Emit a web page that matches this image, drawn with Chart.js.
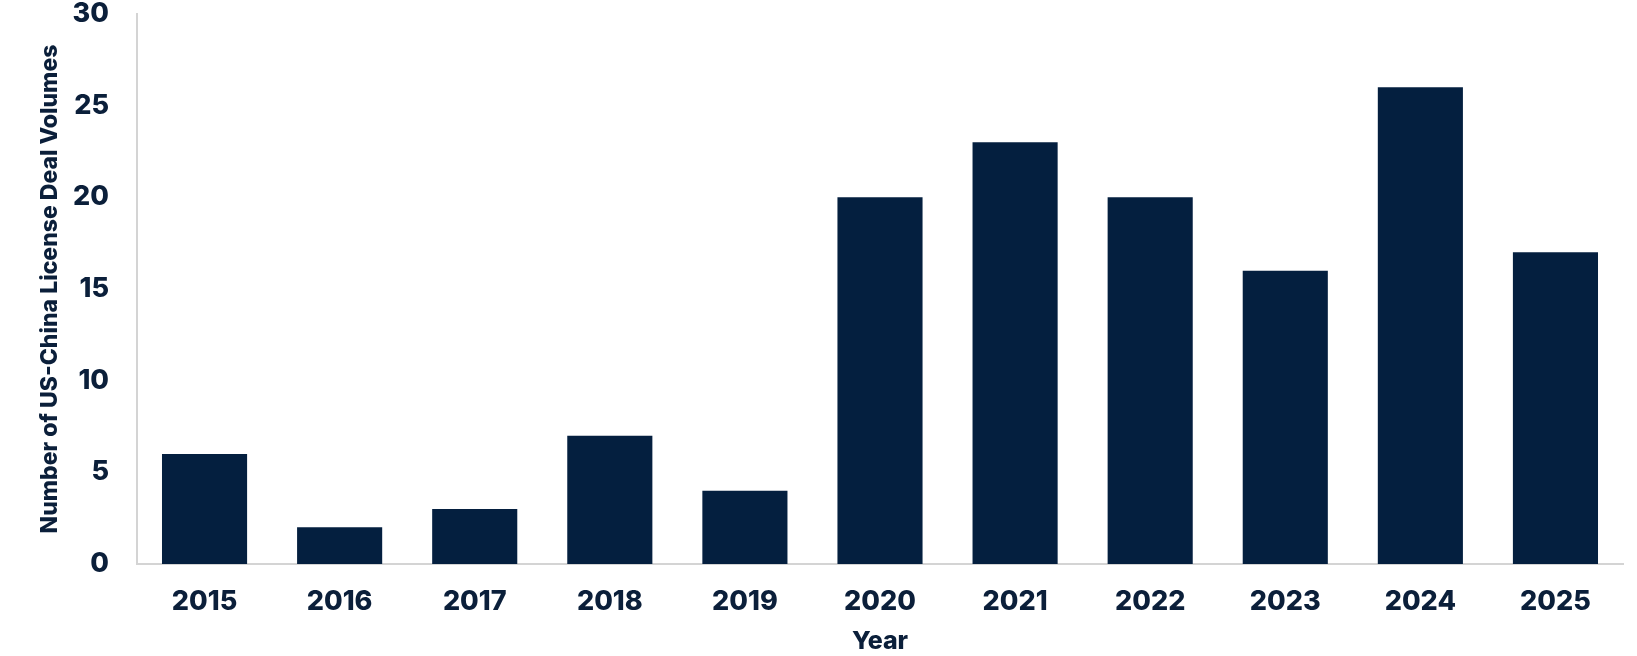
<!DOCTYPE html>
<html>
<head>
<meta charset="utf-8">
<script src="https://cdn.jsdelivr.net/npm/chart.js@4"></script>
<style>
  html, body { margin: 0; padding: 0; background: #fff; }
  #wrap { width: 1637px; height: 656px; }
</style>
</head>
<body>
<div id="wrap"><canvas id="barChart"></canvas></div>
<script>
const years = ['2015', '2016', '2017', '2018', '2019', '2020', '2021', '2022', '2023', '2024', '2025'];
const dealCounts = [6, 2, 3, 7, 4, 20, 23, 20, 16, 26, 17];
const yTicks = [0, 5, 10, 15, 20, 25, 30];

const navy = '#041f3f';
const textNavy = '#0b1f3a';
const font = 'Inter';

const ctx = document.getElementById('barChart').getContext('2d');

const barChart = new Chart(ctx, {
  type: 'bar',
  data: {
    labels: years,
    datasets: [{
      label: 'Deals',
      data: dealCounts,
      backgroundColor: navy,
      borderWidth: 0,
      barPercentage: 0.63,
      categoryPercentage: 1.0,
    }]
  },
  options: {
    responsive: true,
    maintainAspectRatio: false,
    animation: false,
    layout: { padding: { top: 14, right: 14, left: 0, bottom: 0 } },
    plugins: {
      legend: { display: false },
      tooltip: { enabled: false },
    },
    scales: {
      x: {
        grid: { display: false },
        border: { display: true, color: '#d4d4d4', width: 2 },
        ticks: {
          color: textNavy,
          padding: 14,
          font: { family: font, size: 27, weight: 800 },
        },
        title: {
          display: true,
          text: 'Year',
          color: textNavy,
          padding: { top: 4, bottom: 0 },
          font: { family: font, size: 25, weight: 800 },
        },
        afterFit: (scale) => { scale.height = 92; },
      },
      y: {
        min: 0,
        max: 30,
        grid: { display: false },
        border: { display: true, color: '#d4d4d4', width: 2 },
        afterBuildTicks: (scale) => { scale.ticks = yTicks.map(v => ({ value: v })); },
        ticks: {
          color: textNavy,
          padding: 20,
          font: { family: font, size: 27, weight: 800 },
        },
        title: {
          display: true,
          text: 'Number of US-China License Deal Volumes',
          color: textNavy,
          padding: { top: 36, bottom: 0 },
          font: { family: font, size: 23, weight: 800 },
        },
        afterFit: (scale) => {
          scale.width = 137;
          scale.paddingTop = 0;
          scale.paddingBottom = 0;
        },
      }
    }
  }
});
</script>
</body>
</html>
